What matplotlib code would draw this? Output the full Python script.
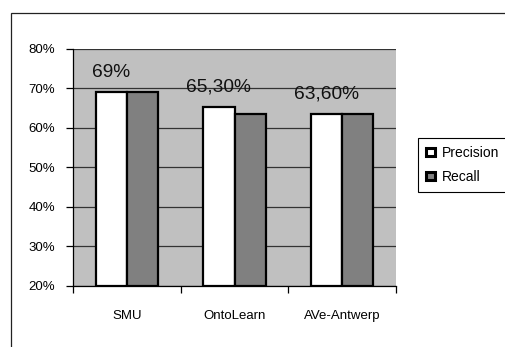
import numpy as np
import matplotlib.pyplot as plt
from matplotlib.patches import Patch, Rectangle

plt.rcParams['font.family'] = ['Liberation Sans', 'DejaVu Sans']

categories = ["SMU", "OntoLearn", "AVe-Antwerp"]
precision = [69.0, 65.3, 63.6]
recall = [69.0, 63.6, 63.6]
value_labels = ["69%", "65,30%", "63,60%"]
yticks = [20, 30, 40, 50, 60, 70, 80]
ytick_labels = ["20%", "30%", "40%", "50%", "60%", "70%", "80%"]

fig = plt.figure(figsize=(5.06, 3.47), dpi=100)
ax = fig.add_axes([0.1443, 0.1758, 0.6383, 0.683])

# outer chart frame (runs off the right/bottom edge like the source)
fig.patches.append(Rectangle((11 / 506, -0.1), 1.2, 1 - 13 / 347 + 0.1,
                             transform=fig.transFigure, fill=False,
                             edgecolor='#222222', linewidth=0.9))

x = np.arange(len(categories))
w = 0.29
ax.set_facecolor('#C0C0C0')
ax.bar(x - w / 2, np.array(precision) - 20, w, bottom=20, color='white',
       edgecolor='black', linewidth=1.6, zorder=3)
ax.bar(x + w / 2, np.array(recall) - 20, w, bottom=20, color='#808080',
       edgecolor='black', linewidth=1.6, zorder=3)

for xi, p, lab in zip(x, precision, value_labels):
    ax.annotate(lab, (xi - w / 2, p), xytext=(0, 11), textcoords='offset points',
                ha='center', va='baseline', fontsize=13.8, color='#111111', zorder=4)

ax.set_ylim(20, 80)
ax.set_xlim(-0.5, 2.5)
ax.set_yticks(yticks)
ax.set_yticklabels(ytick_labels, fontsize=9.5)
ax.yaxis.grid(True, color='#333333', linewidth=0.9, zorder=1)
ax.set_axisbelow(True)

ax.set_xticks([-0.5, 0.5, 1.5, 2.5])
ax.set_xticklabels([])
ax.set_xticks(x, minor=True)
ax.set_xticklabels(categories, minor=True, fontsize=9.5)
ax.tick_params(axis='x', which='minor', length=0, pad=17)
ax.tick_params(axis='x', which='major', length=5, width=0.9, direction='out')
ax.tick_params(axis='y', length=5, width=0.9, pad=8)

for s in ['top', 'right']:
    ax.spines[s].set_visible(False)
for s in ['left', 'bottom']:
    ax.spines[s].set_linewidth(0.9)

handles = [Patch(facecolor='white', edgecolor='black', linewidth=2.2),
           Patch(facecolor='#808080', edgecolor='black', linewidth=2.2)]
leg = fig.legend(handles, ["Precision", "Recall"], loc='upper left',
                 bbox_to_anchor=(0.826, 0.602), bbox_transform=fig.transFigure,
                 borderaxespad=0, fancybox=False, edgecolor='black',
                 framealpha=1, fontsize=10, handlelength=0.7, handleheight=0.55,
                 handletextpad=0.5, borderpad=0.55, labelspacing=0.75)
leg.get_frame().set_linewidth(0.8)

fig.savefig("out.png", dpi=100)
